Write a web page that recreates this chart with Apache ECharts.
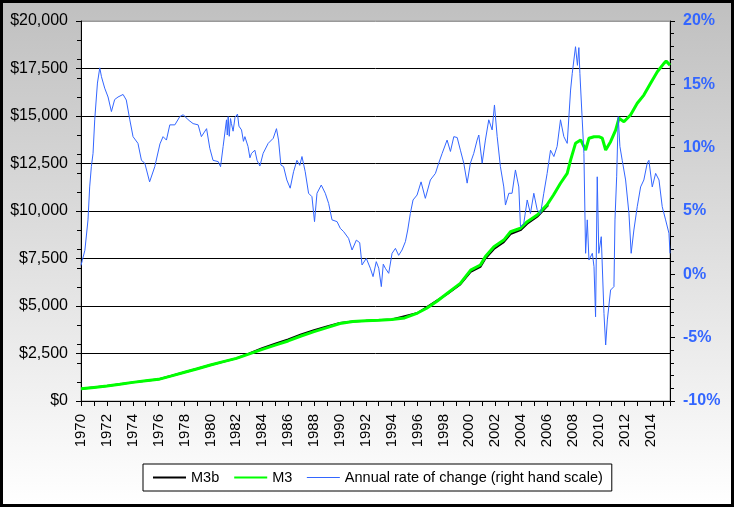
<!DOCTYPE html>
<html>
<head>
<meta charset="utf-8">
<script src="https://cdn.jsdelivr.net/npm/echarts@6/dist/echarts.min.js"></script>
<style>
html,body{margin:0;padding:0;}
#bg{position:absolute;left:0;top:0;width:734px;height:507px;box-sizing:border-box;border:3px solid #000;background:linear-gradient(to bottom,#c0c0c0,#ffffff);}
#chart{position:absolute;left:0;top:0;width:734px;height:507px;}
</style>
</head>
<body>
<div id="bg"></div>
<div id="chart"></div>
<script>
// M3 (left scale, $bn)
const m3Years = [1970,1971,1972,1973,1974,1975,1976,1977,1978,1979,1980,1981,1982,1983,1984,1985,1986,1987,1988,1989,1990,1991,1992,1993,1994,1995,1996,1996.7,1997.5,1998.3,1999.3,2000.1,2000.85,2001.24,2001.9,2002.66,2003.18,2003.95,2004.47,2005.24,2006.0,2006.5,2007.04,2007.56,2007.82,2008.2,2008.6,2008.98,2009.24,2009.63,2010.0,2010.27,2010.53,2010.91,2011.3,2011.56,2011.94,2012.45,2012.97,2013.48,2014.0,2014.52,2015.03,2015.2,2015.5];
const m3Values = [650,715,790,880,980,1060,1140,1320,1510,1700,1895,2070,2245,2480,2720,2940,3160,3420,3650,3860,4080,4180,4220,4250,4290,4370,4630,4880,5250,5670,6190,6890,7160,7600,8120,8470,8910,9090,9440,9790,10320,10840,11460,11980,12680,13560,13740,13210,13830,13910,13910,13830,13210,13650,14260,14880,14700,15050,15670,16100,16720,17330,17770,17890,17680];
// M3b (left scale, $bn)
const m3bYears = [1970,1972,1974,1976,1978,1980,1982,1983,1984,1985,1986,1987,1988,1989,1990,1991,1992,1994,1996,1998.3,1999.3,2000.1,2000.85,2001.24,2001.9,2002.66,2003.18,2003.95,2004.47,2005.24,2006.0,2006.1];
const m3bValues = [650,790,980,1140,1510,1895,2245,2500,2780,3010,3240,3500,3720,3920,4110,4190,4220,4290,4630,5640,6140,6800,7060,7500,8000,8360,8790,8990,9330,9700,10250,10300];
// Annual rate of change (right scale, %)
const rateYears = [1970.0,1970.1,1970.3,1970.54,1970.67,1970.8,1970.93,1971.06,1971.19,1971.27,1971.45,1971.58,1971.83,1972.09,1972.35,1972.6,1972.86,1973.25,1973.5,1973.77,1974.02,1974.4,1974.67,1974.93,1975.3,1975.7,1976.1,1976.34,1976.6,1976.86,1977.25,1977.63,1977.9,1978.28,1978.66,1979.05,1979.3,1979.7,1979.95,1980.2,1980.6,1980.78,1980.98,1981.24,1981.3,1981.37,1981.45,1981.55,1981.62,1981.75,1981.9,1982.09,1982.2,1982.4,1982.55,1982.66,1982.9,1983.05,1983.17,1983.43,1983.6,1983.82,1984.07,1984.46,1984.85,1985.1,1985.26,1985.44,1985.65,1985.9,1986.16,1986.42,1986.68,1986.9,1987.07,1987.32,1987.58,1987.84,1988.04,1988.23,1988.56,1988.87,1989.13,1989.39,1989.78,1990.03,1990.29,1990.67,1990.94,1991.27,1991.53,1991.71,1992.04,1992.35,1992.56,1992.81,1993.0,1993.2,1993.35,1993.51,1993.77,1994.03,1994.29,1994.54,1994.8,1995.06,1995.24,1995.44,1995.65,1995.96,1996.27,1996.6,1996.99,1997.38,1997.63,1997.9,1998.28,1998.54,1998.8,1999.06,1999.31,1999.57,1999.83,2000.08,2000.34,2000.6,2000.73,2000.99,2001.24,2001.5,2001.76,2001.94,2002.15,2002.4,2002.66,2002.79,2003.05,2003.3,2003.56,2003.82,2003.95,2004.2,2004.47,2004.72,2004.98,2005.24,2005.5,2005.75,2006.01,2006.27,2006.53,2006.78,2007.04,2007.3,2007.56,2007.82,2007.95,2008.2,2008.35,2008.46,2008.54,2008.72,2008.85,2008.98,2009.11,2009.24,2009.5,2009.63,2009.75,2009.88,2010.0,2010.19,2010.4,2010.53,2010.66,2010.91,2011.17,2011.25,2011.38,2011.5,2011.63,2011.81,2012.07,2012.33,2012.5,2012.71,2012.97,2013.23,2013.48,2013.74,2013.87,2014.13,2014.39,2014.65,2014.9,2015.16,2015.42,2015.5];
const rateValues = [0.7,1.1,1.9,4.3,6.9,8.5,9.55,12.2,14.0,15.1,16.3,15.6,14.7,14.0,12.85,13.8,14.0,14.2,13.76,12.2,10.87,10.34,9.0,8.77,7.3,8.5,10.3,10.87,10.6,11.8,11.8,12.45,12.6,12.2,11.9,11.8,10.87,11.5,9.95,9.0,8.9,8.5,10.1,12.2,11.0,12.45,10.9,12.3,11.9,11.3,12.4,12.65,11.7,11.4,10.5,10.87,10.1,9.2,9.55,9.8,9.0,8.55,9.55,10.34,10.74,11.5,10.6,8.63,8.5,7.45,6.8,8.1,9.0,8.6,9.3,8.1,6.4,6.13,4.16,6.4,7.05,6.4,5.6,4.3,4.16,3.63,3.37,2.84,1.92,2.7,2.5,0.74,1.26,0.48,-0.18,1.0,0.48,-0.97,0.8,0.48,0.08,1.66,2.05,1.5,1.92,2.58,3.5,4.8,5.87,6.26,7.3,6.0,7.45,7.97,8.77,9.55,10.6,9.7,10.87,10.8,9.8,8.77,7.2,8.77,9.55,10.6,11.0,8.77,10.6,12.2,11.4,13.37,10.87,8.5,6.9,5.47,6.4,6.4,8.24,6.9,3.76,4.0,5.87,4.8,6.4,5.1,4.8,6.4,7.97,9.8,9.3,10.1,12.2,10.87,10.34,14.55,15.87,17.97,16.5,17.9,15.87,12.2,9.55,1.66,4.3,1.13,1.66,0.6,-3.35,7.7,1.66,2.97,-3.1,-5.58,-3.6,-1.24,-0.97,4.3,7.7,12.45,10.1,9.0,7.45,4.8,1.66,3.5,5.34,6.9,7.45,8.77,9.0,6.9,7.97,7.45,5.34,4.3,3.24,1.66];

const leftTicks = ['$0','$2,500','$5,000','$7,500','$10,000','$12,500','$15,000','$17,500','$20,000'];
const rightTicks = ['-10%','-5%','0%','5%','10%','15%','20%'];

const zip = (xs, ys) => xs.map((x, i) => [x, ys[i]]);
const FONT = 'Liberation Sans, Arial, sans-serif';
const BLUE = '#3366FF';
const NOSYM = {color: 'rgba(0,0,0,0)', borderWidth: 0, opacity: 0};

const chart = echarts.init(document.getElementById('chart'), null, {renderer: 'canvas'});
chart.setOption({
  animation: false,
  backgroundColor: 'transparent',
  textStyle: {fontFamily: FONT},
  grid: {left: 81, right: 64, top: 21, bottom: 106, show: true, backgroundColor: '#ffffff', borderColor: '#999999', borderWidth: 1},
  legend: {
    left: 143, top: 464, orient: 'horizontal',
    padding: [6, 9, 6, 9],
    backgroundColor: '#ffffff', borderColor: '#000000', borderWidth: 1, borderRadius: 0,
    itemWidth: 33, itemHeight: 14, itemGap: 14,
    itemStyle: NOSYM,
    textStyle: {fontFamily: FONT, fontSize: 14.5, color: '#000'},
    data: [
      {name: 'M3b', itemStyle: NOSYM, lineStyle: {color: '#000', width: 2}},
      {name: 'M3', itemStyle: NOSYM, lineStyle: {color: '#00FF00', width: 2}},
      {name: 'Annual rate of change (right hand scale)', itemStyle: NOSYM, lineStyle: {color: BLUE, width: 1}}
    ]
  },
  xAxis: {
    type: 'value', min: 1970, max: 2015.5, interval: 1,
    axisLine: {show: true, lineStyle: {color: '#000', width: 1}},
    axisTick: {show: true, length: 5, lineStyle: {color: '#000'}},
    splitLine: {show: false},
    axisLabel: {
      rotate: 90, margin: 13, fontSize: 15, color: '#000', fontFamily: FONT,
      formatter: v => (Number.isInteger(v) && v % 2 === 0) ? String(v) : ''
    }
  },
  yAxis: [
    {
      type: 'value', position: 'left', min: 0, max: 20000, interval: 2500,
      axisLine: {show: true, lineStyle: {color: '#000', width: 1}},
      axisTick: {show: true, length: 5, lineStyle: {color: '#000'}},
      splitLine: {show: true, lineStyle: {color: ['#000','#000','#000','#000','#000','#000','#000','#000','#999'], width: 1}},
      axisLabel: {fontSize: 16, color: '#000', margin: 13, fontFamily: FONT,
        formatter: v => leftTicks[Math.round(v / 2500)]}
    },
    {
      type: 'value', position: 'right', min: -10, max: 20, interval: 5,
      axisLine: {show: true, lineStyle: {color: '#000', width: 1}},
      axisTick: {show: true, length: 5, lineStyle: {color: '#000'}},
      minorTick: {show: true, splitNumber: 5, length: 4, lineStyle: {color: '#000'}},
      splitLine: {show: false},
      axisLabel: {fontSize: 16, fontWeight: 'bold', color: BLUE, margin: 13, fontFamily: FONT,
        formatter: v => rightTicks[Math.round((v + 10) / 5)]}
    },
    {
      type: 'value', position: 'left', min: 0, max: 20000, interval: 1000,
      axisLine: {show: false},
      axisTick: {show: true, length: 4, lineStyle: {color: '#000'}},
      splitLine: {show: false},
      axisLabel: {show: false}
    }
  ],
  series: [
    {
      name: 'M3b', type: 'line', yAxisIndex: 0, symbol: 'none',
      lineStyle: {color: '#000000', width: 2}, itemStyle: {color: '#000000'},
      data: zip(m3bYears, m3bValues), z: 2
    },
    {
      name: 'M3', type: 'line', yAxisIndex: 0, symbol: 'none',
      lineStyle: {color: '#00FF00', width: 3}, itemStyle: {color: '#00FF00'},
      data: zip(m3Years, m3Values), z: 3
    },
    {
      name: 'Annual rate of change (right hand scale)', type: 'line', yAxisIndex: 1, symbol: 'none',
      lineStyle: {color: BLUE, width: 1}, itemStyle: {color: BLUE},
      data: zip(rateYears, rateValues), z: 4
    }
  ]
});
</script>
</body>
</html>
